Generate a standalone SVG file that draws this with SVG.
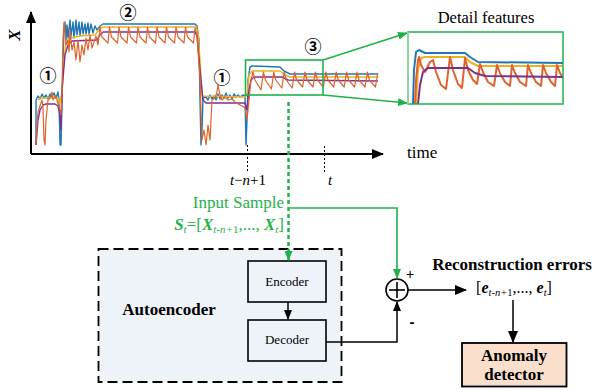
<svg xmlns="http://www.w3.org/2000/svg" width="596" height="392" viewBox="0 0 596 392">
<defs>
<style>
.serif{font-family:"Liberation Serif","Times New Roman",serif;}
.ax{stroke:#000;stroke-width:2;fill:none;}
.tick{stroke:#000;stroke-width:1;stroke-dasharray:2,2;fill:none;}
.g{stroke:#1fb24a;stroke-width:1.6;fill:none;}
.blk{stroke:#000;stroke-width:1.5;fill:none;}
.box{stroke:#000;stroke-width:1.6;fill:none;}
.cb{stroke:#1f77b4;stroke-width:1.4;fill:none;stroke-linejoin:round;}
.cy{stroke:#edb120;stroke-width:1.4;fill:none;stroke-linejoin:round;}
.cp{stroke:#7e2f8e;stroke-width:1.4;fill:none;stroke-linejoin:round;}
.co{stroke:#e0622a;stroke-width:1.2;fill:none;stroke-linejoin:round;}
.dt path{stroke-width:2;}
.num{font-family:"Noto Sans CJK SC","DejaVu Sans",sans-serif;font-size:17px;font-weight:bold;text-anchor:middle;}
.green{fill:#1fb24a;}
</style>
<marker id="ab" markerWidth="10" markerHeight="8" refX="9" refY="4" orient="auto" markerUnits="userSpaceOnUse"><path d="M0,0 L10,4 L0,8 Z" fill="#000"/></marker>
<marker id="ab2" markerWidth="12" markerHeight="10" refX="11" refY="5" orient="auto" markerUnits="userSpaceOnUse"><path d="M0,0 L12,5 L0,10 Z" fill="#000"/></marker>
<marker id="ag" markerWidth="10" markerHeight="8" refX="9" refY="4" orient="auto" markerUnits="userSpaceOnUse"><path d="M0,0 L10,4 L0,8 Z" fill="#1fb24a"/></marker>
</defs>
<rect width="596" height="392" fill="#fff"/>

<g id="chart">
<path class="cb" d="M36,145 L36,100 L38,96 L40,99 L42,94 L44,98 L46,95 L48,99 L50,94 L52,97 L54,93 L56,98 L58,92 L59,100 L60,145 L61,145 L63,60 L64,30 L65,22 L66,40 L67,25 L68,38 L70,20 L71,36 L73,22 L74,38 L76,20 L77,35 L79,22 L80,36 L82,22 L83,34 L85,24 L86,34 L88,23 L89,34 L91,24 L93,33 L95,26 L97,30 L100,26 L103,24 L195,24 L197,26 L199,40 L200,100 L201,145 L202,130 L203,98 L206,97 L208,100 L210,95 L212,99 L214,96 L216,100 L218,94 L220,99 L222,95 L224,98 L226,93 L228,98 L230,95 L232,99 L234,94 L236,97 L238,95 L240,97 L243,95 L245,96 L246,145 L247,120 L248,80 L250,67 L252,66 L280,67 L284,71 L290,74 L378,74"/>
<path class="cy" d="M38,100 L40,98 L58,98 L60,104 L62,90 L64,60 L66,42 L70,38 L80,36 L95,35 L100,28 L104,27 L196,27 L198,32 L200,60 L202,96 L245,97 L247,95 L249,75 L252,71 L280,71 L285,75 L290,77 L378,77"/>
<path class="cp" d="M36,145 L38,120 L40,110 L43,105 L46,104 L55,104 L58,106 L60,115 L61,130 L62,90 L65,55 L68,45 L72,41 L97,40 L100,35 L103,32 L195,32 L197,36 L200,70 L203,100 L206,103 L245,103 L247,110 L249,90 L251,80 L254,77 L282,77 L288,80 L378,81"/>
<path class="co" d="M36,145 L37,125 L38,112 L40,106 L42,100 L43,108 L44,140 L45,145 L46,120 L48,100 L50,98 L52,92 L53,100 L55,96 L57,100 L58,104 L60,110 L61,115 L62,95 L63,40 L64,22 L65,30 L66,45 L68,40 L69,52 L70,30 L72,50 L74,42 L76,60 L78,40 L80,62 L82,45 L84,55 L86,38 L88,50 L90,35 L92,48 L94,42 L96,36 L98,45 L100,27 L102,37 L108,43 L109.5,27 L111.5,37 L117.5,43 L119,27 L121,37 L127,43 L128.5,27 L130.5,37 L136.5,43 L138,27 L140,37 L146,43 L147.5,27 L149.5,37 L155.5,43 L157,27 L159,37 L165,43 L166.5,27 L168.5,37 L174.5,43 L176,27 L178,37 L184,43 L185.5,27 L187.5,37 L193.5,43 L195,28 L197,35 L200,80 L202,140 L204,130 L206,145 L208,125 L210,140 L212,100 L215,98 L217,92 L218,85 L220,95 L222,100 L225,97 L228,100 L232,99 L235,102 L238,104 L242,106 L245,108 L247,120 L249,100 L251,80 L253,72 L255,80 L261,90 L263.4,72 L265.4,80 L271.4,89 L273.8,72 L275.8,80 L281.8,88 L284.2,72 L286.2,80 L292.2,88 L294.6,72 L296.6,80 L302.6,87 L305,72 L307,80 L313,87 L315.4,72 L317.4,80 L323.4,87 L325.8,72 L327.8,80 L333.8,87 L336.2,72 L338.2,80 L344.2,87 L346.6,72 L348.6,80 L354.6,87 L357,72 L359,80 L365,87 L367.4,72 L369.4,80 L375.4,87 L377.8,73"/>
<line class="ax" x1="31" y1="154" x2="31" y2="12" marker-end="url(#ab2)"/>
<line class="ax" x1="31" y1="154" x2="383" y2="154" marker-end="url(#ab2)"/>
<line class="tick" x1="247.5" y1="145" x2="247.5" y2="172"/>
<line class="tick" x1="324.5" y1="146" x2="324.5" y2="172"/>
<text class="serif" x="14" y="35" font-size="17" font-weight="bold" font-style="italic" text-anchor="middle" dominant-baseline="central" transform="rotate(-90 14 35)">X</text>
<text class="serif" x="407" y="158" font-size="17">time</text>
<text class="serif" x="248" y="185" font-size="15" text-anchor="middle"><tspan font-style="italic">t</tspan>−<tspan font-style="italic">n</tspan>+1</text>
<text class="serif" x="330" y="185" font-size="15" font-style="italic" text-anchor="middle">t</text>
<text class="num" x="48" y="82">①</text>
<text class="num" x="128" y="19">②</text>
<text class="num" x="222" y="84">①</text>
<text class="num" x="313" y="53">③</text>
<rect class="g" x="245.5" y="60" width="77.5" height="35"/>
<line class="g" x1="323" y1="60" x2="407" y2="33" marker-end="url(#ag)"/>
<line class="g" x1="323" y1="95" x2="407" y2="103" marker-end="url(#ag)"/>
</g>

<g id="detail" class="dt">
<text class="serif" x="486" y="23" font-size="16.5" text-anchor="middle">Detail features</text>
<path class="cb" d="M413,104 L414,70 L416,52 L419,50 L425,53 L465,53 L470,57 L478,62 L563,63"/>
<path class="cy" d="M416,104 L418,70 L421,58 L425,57 L465,57 L470,62 L478,66 L563,66"/>
<path class="co" d="M415,104 L416,80 L418,60 L419,57 L421,65 L425,72 L430,62 L433,60 L436,72 L441,85 L446,89 L450,57 L453,70 L458,84 L462,88 L465,58 L468,70 L473,80 L477,84 L480,64 L483,72 L488,82 L494,86 L497,65 L500,73 L505,82 L510,86 L512,65 L515,73 L520,82 L526,86 L528,65 L531,73 L536,82 L541,86 L543,65 L546,73 L551,82 L555,86 L557,65 L560,73 L563,78"/>
<path class="cp" d="M418,104 L420,85 L423,72 L428,68 L468,68 L475,73 L485,76 L563,77"/>
<rect x="408" y="32" width="155" height="72" fill="none" stroke="#1fb24a" stroke-width="1.5"/>
<line x1="408" y1="32" x2="408" y2="104" stroke="#9fdcae" stroke-width="1.5"/>
</g>

<g id="input-sample">
<text class="serif green" x="284" y="208" font-size="17" text-anchor="end">Input Sample</text>
<text class="serif green" x="284" y="230" font-size="17" text-anchor="end"><tspan font-weight="bold" font-style="italic">S</tspan><tspan font-style="italic" font-size="11" dy="3">t</tspan><tspan dy="-3">=[</tspan><tspan font-weight="bold" font-style="italic">X</tspan><tspan font-style="italic" font-size="11" dy="3">t-n+</tspan><tspan font-size="11">1</tspan><tspan dy="-3">,..., </tspan><tspan font-weight="bold" font-style="italic">X</tspan><tspan font-style="italic" font-size="11" dy="3">t</tspan><tspan dy="-3">]</tspan></text>
</g>

<g id="autoencoder">
<rect x="98.5" y="249" width="243" height="133" fill="#eef3fa" stroke="#000" stroke-width="1.8" stroke-dasharray="10,5"/>
<text class="serif" x="169" y="315" font-size="17" font-weight="bold" text-anchor="middle">Autoencoder</text>
</g>
<g id="encoder">
<rect class="box" x="248" y="261" width="78" height="41" fill="#eef3fa"/>
<text class="serif" x="287" y="286" font-size="13" text-anchor="middle">Encoder</text>
</g>
<g id="decoder">
<rect class="box" x="248" y="320" width="78" height="41" fill="#eef3fa"/>
<text class="serif" x="287" y="344" font-size="13" text-anchor="middle">Decoder</text>
</g>

<g id="sum">
<circle cx="397" cy="290" r="11" fill="#fff" stroke="#000" stroke-width="1.6"/>
<line x1="389" y1="290" x2="405" y2="290" stroke="#000" stroke-width="1.6"/>
<line x1="397" y1="282" x2="397" y2="298" stroke="#000" stroke-width="1.6"/>
<text x="410" y="279" font-family="Liberation Sans,Arial,sans-serif" font-size="14" text-anchor="middle">+</text>
<text x="412" y="327" font-family="Liberation Sans,Arial,sans-serif" font-size="15" font-weight="bold" text-anchor="middle">-</text>
</g>

<g id="recon">
<text class="serif" x="512" y="270" font-size="17" font-weight="bold" text-anchor="middle">Reconstruction errors</text>
<text class="serif" x="514" y="293" font-size="16" text-anchor="middle">[<tspan font-weight="bold" font-style="italic">e</tspan><tspan font-style="italic" font-size="10.5" dy="3">t-n+</tspan><tspan font-size="10.5">1</tspan><tspan dy="-3">,..., </tspan><tspan font-weight="bold" font-style="italic">e</tspan><tspan font-style="italic" font-size="10.5" dy="3">t</tspan><tspan dy="-3">]</tspan></text>
</g>

<g id="anomaly-detector">
<rect x="462" y="343" width="104.5" height="43.5" fill="#f9dfcc" stroke="#000" stroke-width="1.8"/>
<text class="serif" x="514" y="361" font-size="17" font-weight="bold" text-anchor="middle">Anomaly</text>
<text class="serif" x="514" y="380" font-size="17" font-weight="bold" text-anchor="middle">detector</text>
</g>

<g id="connectors">
<line x1="288.5" y1="102" x2="288.5" y2="260" stroke="#1fb24a" stroke-width="2.5" stroke-dasharray="4,3" marker-end="url(#ag)"/>
<polyline class="g" points="290,208 397,208 397,278" marker-end="url(#ag)"/>
<line class="blk" x1="288" y1="302" x2="288" y2="319" marker-end="url(#ab)"/>
<polyline class="blk" points="326,342 397,342 397,302" marker-end="url(#ab)"/>
<line class="blk" x1="408" y1="290" x2="466" y2="290" marker-end="url(#ab2)"/>
<line class="blk" x1="513" y1="300" x2="513" y2="342" marker-end="url(#ab2)"/>
</g>
</svg>
